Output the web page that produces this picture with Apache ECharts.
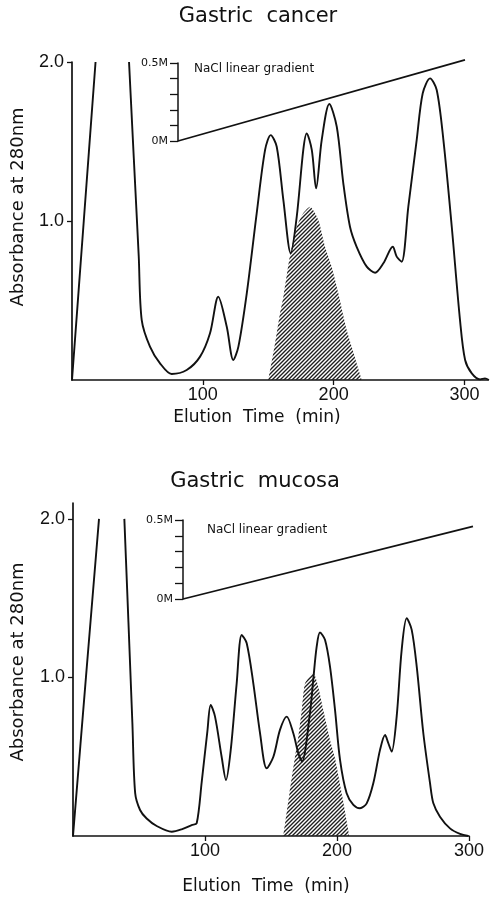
<!DOCTYPE html>
<html>
<head>
<meta charset="utf-8">
<script src="https://cdn.jsdelivr.net/npm/echarts@6/dist/echarts.min.js"></script>
<style>
html,body{margin:0;padding:0;background:#fff;}
#chart{width:490px;height:901px;}
</style>
</head>
<body>
<div id="chart"></div>
<script>
// ---------- DATA ----------
// Gastric cancer: absorbance at 280 nm vs elution time (min); null = trace off-scale
var cancerTime = [0, 9, 18, null, 43.6, 46, 48.5, 51, 53.3, 59.6, 67.3, 76.2, 87.7, 97.9, 105.5, 111.8, 118.3, 123.3, 127.2, 133.6, 141.2, 147.6, 151.9, 156.5, 161.6, 167.2, 171.8, 176.8, 179.4, 183.3, 186.6, 190.9, 196.7, 202.4, 207.4, 212.5, 217.6, 225.3, 231.7, 238, 245.2, 248.2, 252, 257.1, 263.5, 268.1, 273.7, 278.8, 283.9, 290.3, 296.6, 300.5, 305.6, 312, 315.7, 318.7];
var cancerAbs  = [0, 1.0, 2.0, null, 2.0, 1.6, 1.19, 0.78, 0.377, 0.21, 0.105, 0.038, 0.063, 0.147, 0.294, 0.524, 0.335, 0.126, 0.21, 0.545, 1.05, 1.447, 1.54, 1.467, 1.13, 0.797, 1.027, 1.447, 1.55, 1.447, 1.205, 1.51, 1.736, 1.593, 1.237, 0.964, 0.838, 0.713, 0.675, 0.734, 0.838, 0.776, 0.744, 1.09, 1.51, 1.803, 1.897, 1.824, 1.51, 0.964, 0.377, 0.126, 0.042, 0.004, 0.01, 0];
// Gastric cancer: hatched (active) fraction
var cancerHatchTime = [150, 155, 159, 161.6, 166.7, 171.8, 176.8, 182, 188.3, 193.4, 198.5, 203.6, 210, 216, 221.5];
var cancerHatchAbs  = [0, 0.22, 0.42, 0.524, 0.786, 0.964, 1.05, 1.09, 1.006, 0.838, 0.713, 0.545, 0.314, 0.15, 0];
// Gastric cancer: NaCl gradient (min, M)
var cancerGradTime = [81, 300];
var cancerGradConc = [0, 0.52];

// Gastric mucosa
var mucosaTime = [0, 9.8, 19.7, null, 38.9, 41, 43, 45, 47.1, 50.8, 55.8, 63.4, 74.8, 82.3, 89.9, 93.7, 97.5, 101.8, 104.3, 107.6, 112.6, 115.9, 119.5, 124, 127.8, 131.6, 136.6, 141.7, 146.7, 151.8, 156.8, 161.9, 166.9, 170.7, 173.5, 179.5, 182, 184.6, 187.1, 190.9, 194.7, 198.5, 202.3, 207.3, 212.4, 217.4, 222.5, 227.5, 232.6, 236.4, 238.9, 241.4, 245.2, 249, 252.8, 256.6, 260.4, 265.4, 270.5, 273, 278, 285.6, 293.2, 299.5];
var mucosaAbs  = [0, 1.0, 2.0, null, 2.0, 1.56, 1.135, 0.71, 0.27, 0.164, 0.11, 0.063, 0.027, 0.042, 0.069, 0.08, 0.34, 0.66, 0.826, 0.753, 0.5, 0.353, 0.543, 0.963, 1.268, 1.216, 0.963, 0.648, 0.427, 0.5, 0.669, 0.753, 0.648, 0.522, 0.47, 0.774, 0.984, 1.194, 1.283, 1.237, 1.068, 0.795, 0.48, 0.269, 0.196, 0.175, 0.206, 0.332, 0.543, 0.637, 0.585, 0.532, 0.753, 1.174, 1.373, 1.3, 1.068, 0.648, 0.332, 0.206, 0.122, 0.048, 0.013, 0];
var mucosaHatchTime = [159.3, 164, 168.2, 170.7, 173.3, 175.8, 182, 185.8, 189.6, 194.7, 198.5, 204, 209.3];
var mucosaHatchAbs  = [0, 0.27, 0.5, 0.626, 0.795, 0.963, 1.03, 0.942, 0.795, 0.606, 0.49, 0.25, 0];
var mucosaGradTime = [83, 303];
var mucosaGradConc = [0, 0.46];

var xTicks = [100, 200, 300];
var yTicks = [1.0, 2.0];
var gradTicks = [0, 0.1, 0.2, 0.3, 0.4, 0.5];
var gradLabels = [0, 0.5];

// ---------- helpers ----------
function pairs(xs, ys) {
  return xs.map(function (x, i) {
    return (x === null || ys[i] === null) ? ['-', '-'] : [x, ys[i]];
  });
}
function hatchPattern() {
  var s = 4;
  var c = document.createElement('canvas');
  c.width = s; c.height = s;
  var g = c.getContext('2d');
  g.strokeStyle = '#1e1e1e';
  g.lineWidth = 1.35;
  g.beginPath();
  g.moveTo(-1, s + 1); g.lineTo(s + 1, -1);
  g.moveTo(-1, 1); g.lineTo(1, -1);
  g.moveTo(s - 1, s + 1); g.lineTo(s + 1, s - 1);
  g.stroke();
  return c;
}
var pat = hatchPattern();

var INK = '#111';
var numFont = 'Liberation Sans';
var txtFont = 'DejaVu Sans';

function mainX(grid, max) {
  return {
    gridIndex: grid, type: 'value', min: 0, max: max,
    axisLine: { show: true, onZero: false, lineStyle: { color: INK, width: 1.7 } },
    axisTick: { show: true, customValues: xTicks, length: 5, lineStyle: { color: INK, width: 1.3 } },
    axisLabel: { customValues: xTicks, fontFamily: numFont, fontSize: 18, color: INK, margin: 6 },
    splitLine: { show: false }
  };
}
function mainY(grid, max) {
  return {
    gridIndex: grid, type: 'value', min: 0, max: max,
    axisLine: { show: true, onZero: false, lineStyle: { color: INK, width: 1.7 } },
    axisTick: { show: true, customValues: yTicks, length: 5, lineStyle: { color: INK, width: 1.3 } },
    axisLabel: { customValues: yTicks, fontFamily: numFont, fontSize: 18, color: INK, margin: 8,
      formatter: function (v) { return v.toFixed(1); } },
    splitLine: { show: false }
  };
}
function insetX(grid, xs) {
  return { gridIndex: grid, type: 'value', min: xs[0], max: xs[xs.length - 1], show: false };
}
function insetY(grid) {
  return {
    gridIndex: grid, type: 'value', min: 0, max: 0.5,
    axisLine: { show: true, onZero: false, lineStyle: { color: INK, width: 1.5 } },
    axisTick: { show: true, customValues: gradTicks, length: 8, lineStyle: { color: INK, width: 1.3 } },
    axisLabel: { customValues: gradLabels, fontFamily: txtFont, fontSize: 11, color: INK, margin: 10,
      formatter: function (v) { return v === 0 ? '0M' : '0.5M'; } },
    splitLine: { show: false }
  };
}
function curve(xi, yi, data) {
  return { type: 'line', xAxisIndex: xi, yAxisIndex: yi, data: data, smooth: 0.3,
    showSymbol: false, symbol: 'none', connectNulls: false,
    lineStyle: { color: INK, width: 1.9 }, z: 5, silent: true };
}
function hatch(xi, yi, data) {
  return { type: 'line', xAxisIndex: xi, yAxisIndex: yi, data: data, smooth: 0.2,
    showSymbol: false, symbol: 'none',
    lineStyle: { width: 0, opacity: 0 },
    areaStyle: { color: { image: pat, repeat: 'repeat' }, opacity: 1 }, z: 2, silent: true };
}
function grad(xi, yi, data) {
  return { type: 'line', xAxisIndex: xi, yAxisIndex: yi, data: data, clip: false,
    showSymbol: false, symbol: 'none',
    lineStyle: { color: INK, width: 1.8 }, z: 5, silent: true };
}
function txt(x, y, s, size, opts) {
  opts = opts || {};
  return { type: 'text', x: x, y: y, rotation: opts.rot || 0, silent: true,
    style: { text: s, fontFamily: txtFont, fontSize: size, fill: INK,
      fontWeight: opts.weight || 'normal',
      align: opts.align || 'center', verticalAlign: 'middle' } };
}

var chart = echarts.init(document.getElementById('chart'), null, { renderer: 'canvas' });
chart.setOption({
  animation: false,
  backgroundColor: '#fff',
  grid: [
    { left: 72, top: 62, width: 416, height: 318 },
    { left: 178, top: 63, width: 287, height: 78 },
    { left: 73, top: 503, width: 396, height: 333 },
    { left: 183, top: 520, width: 290, height: 79 }
  ],
  xAxis: [ mainX(0, 318), insetX(1, cancerGradTime), mainX(2, 300), insetX(3, mucosaGradTime) ],
  yAxis: [ mainY(0, 2.0), insetY(1), mainY(2, 2.1), insetY(3) ],
  series: [
    hatch(0, 0, pairs(cancerHatchTime, cancerHatchAbs)),
    curve(0, 0, pairs(cancerTime, cancerAbs)),
    grad(1, 1, pairs(cancerGradTime, cancerGradConc)),
    hatch(2, 2, pairs(mucosaHatchTime, mucosaHatchAbs)),
    curve(2, 2, pairs(mucosaTime, mucosaAbs)),
    grad(3, 3, pairs(mucosaGradTime, mucosaGradConc))
  ],
  graphic: [
    txt(258, 17, 'Gastric  cancer', 21),
    txt(18, 207, 'Absorbance at 280nm', 18, { rot: Math.PI / 2 }),
    txt(257, 418, 'Elution  Time  (min)', 17),
    txt(194, 69, 'NaCl linear gradient', 12, { align: 'left' }),
    txt(255, 482, 'Gastric  mucosa', 21),
    txt(18, 662, 'Absorbance at 280nm', 18, { rot: Math.PI / 2 }),
    txt(266, 887, 'Elution  Time  (min)', 17),
    txt(207, 530, 'NaCl linear gradient', 12, { align: 'left' })
  ]
});
</script>
</body>
</html>
